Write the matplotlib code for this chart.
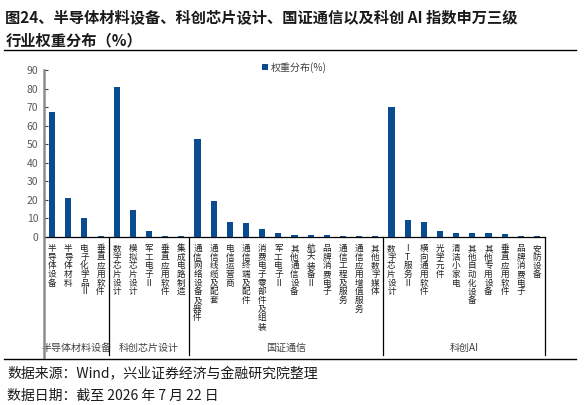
import matplotlib
matplotlib.use('Agg')
import matplotlib.pyplot as plt
import matplotlib.transforms as mtransforms
import numpy as np

plt.rcParams['font.family'] = ['Noto Sans CJK SC', 'DejaVu Sans']

groups = ['半导体材料设备', '科创芯片设计', '国证通信', '科创AI']
group_cats = [
    ['半导体设备', '半导体材料', '电子化学品Ⅱ', '垂直应用软件'],
    ['数字芯片设计', '模拟芯片设计', '军工电子Ⅱ', '垂直应用软件', '集成电路制造'],
    ['通信网络设备及器件', '通信线缆及配套', '电信运营商', '通信终端及配件',
     '消费电子零部件及组装', '军工电子Ⅱ', '其他通信设备', '航天装备Ⅱ',
     '品牌消费电子', '通信工程及服务', '通信应用增值服务', '其他数字媒体'],
    ['数字芯片设计', 'IT服务Ⅱ', '横向通用软件', '光学元件', '清洁小家电',
     '其他自动化设备', '其他专用设备', '垂直应用软件', '品牌消费电子', '安防设备'],
]
group_vals = [
    [67.3, 21.2, 10.1, 0.5],
    [80.8, 14.6, 3.2, 0.5, 0.5],
    [52.7, 19.6, 7.9, 7.7, 4.3, 2.2, 1.1, 0.9, 0.9, 0.5, 0.4, 0.3],
    [70.0, 9.2, 7.9, 3.1, 2.2, 2.0, 2.0, 1.6, 0.5, 0.5],
]
legend_label = '权重分布(%)'
yticks = [0, 10, 20, 30, 40, 50, 60, 70, 80, 90]

cats = [c for g in group_cats for c in g]
vals = [v for g in group_vals for v in g]
x = np.arange(len(cats))

fig = plt.figure(figsize=(5.87, 4.05), dpi=100)
ax = fig.add_axes([0.075, 0.4148, 0.8535, 0.4116])

bar_color = '#0B4B91'
ax.bar(x, vals, width=0.38, color=bar_color, label=legend_label, zorder=3)

ax.set_xlim(-0.5, len(cats) - 0.5)
ax.set_ylim(0, 90)
ax.set_yticks(yticks)
ax.tick_params(axis='y', direction='in', length=3, labelsize=7.5,
               labelcolor='#595959', color='#404040', pad=4)
ax.set_xticks(x)
ax.set_xticklabels(['\n'.join(c) for c in cats], fontsize=6.2,
                   color='#1f1f1f', linespacing=0.95, va='top')
ax.tick_params(axis='x', length=0, pad=5)

for s in ['top', 'right']:
    ax.spines[s].set_visible(False)
ax.spines['left'].set_visible(False)
ax.spines['bottom'].set_color('black')
ax.spines['bottom'].set_linewidth(0.9)

trans = mtransforms.blended_transform_factory(ax.transData, ax.transAxes)
# left axis line extending down through label area
ax.plot([-0.5, -0.5], [-0.718, 1.0], transform=trans, color='#8C8C8C',
        lw=1.8, clip_on=False, zorder=5)
# group separators and labels
bounds = np.cumsum([0] + [len(g) for g in group_cats]) - 0.5
for b in bounds[1:]:
    ax.plot([b, b], [0, -0.705], transform=trans, color='black',
            lw=0.9, clip_on=False)
for i, g in enumerate(groups):
    cx = (bounds[i] + bounds[i + 1]) / 2
    ax.text(cx, -0.665, g, transform=trans, ha='center', va='center',
            fontsize=7.2, color='#404040')

leg = ax.legend(loc='upper center', bbox_to_anchor=(0.5, 1.105), frameon=False,
                fontsize=7.2, handlelength=0.6, handleheight=0.6,
                handletextpad=0.3)
for t in leg.get_texts():
    t.set_color('#404040')

# title, rules and footnotes
fig.text(0.009, 0.958, '图24、半导体材料设备、科创芯片设计、国证通信以及科创 AI 指数申万三级',
         fontsize=11, fontweight='bold', color='#1a1a1a', va='center')
fig.text(0.009, 0.901, '行业权重分布（%）', fontsize=11, fontweight='bold',
         color='#1a1a1a', va='center')
fig.add_artist(plt.Line2D([0.007, 0.981], [0.876, 0.876], color='black', lw=1.0))
fig.add_artist(plt.Line2D([0.007, 0.981], [0.114, 0.114], color='black', lw=1.0))
fig.text(0.012, 0.075, '数据来源：Wind，兴业证券经济与金融研究院整理', fontsize=10,
         color='#1a1a1a', va='center')
fig.text(0.012, 0.024, '数据日期：截至 2026 年 7 月 22 日', fontsize=10,
         color='#1a1a1a', va='center')

fig.savefig('out.png', dpi=100)
